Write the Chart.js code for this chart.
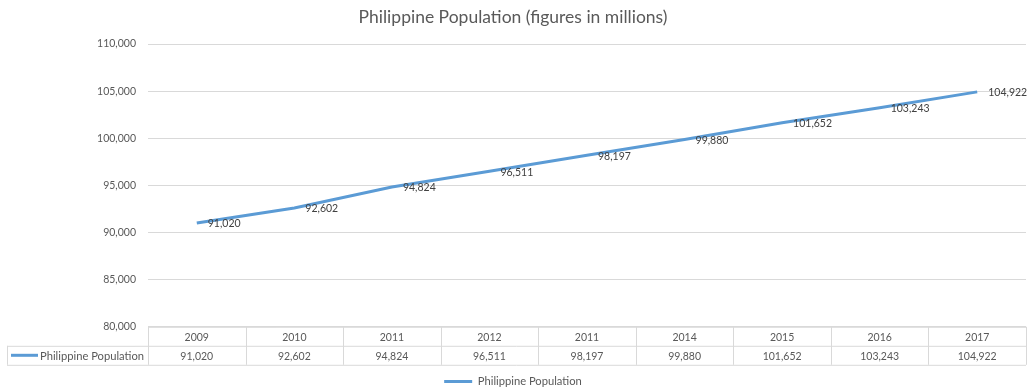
<!DOCTYPE html>
<html>
<head>
<meta charset="utf-8">
<title>Philippine Population</title>
<script src="https://cdn.jsdelivr.net/npm/chart.js@4/dist/chart.umd.min.js"></script>
<style>
  html, body { margin: 0; padding: 0; background: #ffffff; }
  #wrap { width: 1031px; height: 392px; position: relative; }
</style>
</head>
<body>
<div id="wrap"><canvas id="chart"></canvas></div>
<script>
// Year labels as they appear in the table header
const years = ['2009', '2010', '2011', '2012', '2011', '2014', '2015', '2016', '2017'];
// Population per year
const population = [91020, 92602, 94824, 96511, 98197, 99880, 101652, 103243, 104922];
const seriesName = 'Philippine Population';
const yTicks = [80000, 85000, 90000, 95000, 100000, 105000, 110000];

const FONT = 'Lato, "Open Sans", "Liberation Sans", sans-serif';
const NUM_SIZE = 10.5;
const TXT_SIZE = 11.2;
const TEXT = '#595959';
const GRID = '#d9d9d9';
const LINE = '#5b9bd5';

const fmt = v => v.toLocaleString('en-US');

// Value labels to the right of each point
const valueLabels = {
  id: 'valueLabels',
  afterDatasetsDraw(chart) {
    const { ctx } = chart;
    const meta = chart.getDatasetMeta(0);
    ctx.save();
    ctx.font = NUM_SIZE + 'px ' + FONT;
    ctx.fillStyle = '#404040';
    ctx.textAlign = 'left';
    ctx.textBaseline = 'middle';
    meta.data.forEach((pt, i) => {
      ctx.fillText(fmt(population[i]), pt.x + 11, pt.y + 1);
    });
    ctx.restore();
  }
};

// Data table under the plot: year header row and value row
const dataTable = {
  id: 'dataTable',
  afterDraw(chart) {
    const { ctx, chartArea } = chart;
    const x = chart.scales.x;
    const top = chartArea.bottom;
    const rowH = 19;
    const step = x.getPixelForValue(1) - x.getPixelForValue(0);
    const left = chartArea.left;
    const right = chartArea.right;
    const labelLeft = 7;
    ctx.save();
    ctx.strokeStyle = GRID;
    ctx.lineWidth = 1;
    ctx.beginPath();
    // horizontal rules
    ctx.moveTo(left, top + 0.5); ctx.lineTo(right, top + 0.5);
    ctx.moveTo(labelLeft, top + rowH + 0.5); ctx.lineTo(right, top + rowH + 0.5);
    ctx.moveTo(labelLeft, top + 2 * rowH + 0.5); ctx.lineTo(right, top + 2 * rowH + 0.5);
    // vertical rules
    for (let i = 0; i <= years.length; i++) {
      const vx = Math.round(x.getPixelForValue(i) - step / 2) + 0.5;
      ctx.moveTo(vx, top); ctx.lineTo(vx, top + 2 * rowH);
    }
    ctx.moveTo(labelLeft + 0.5, top + rowH); ctx.lineTo(labelLeft + 0.5, top + 2 * rowH);
    ctx.stroke();

    ctx.font = NUM_SIZE + 'px ' + FONT;
    ctx.fillStyle = TEXT;
    ctx.textAlign = 'center';
    ctx.textBaseline = 'middle';
    years.forEach((y, i) => {
      const cx = x.getPixelForValue(i);
      ctx.fillText(y, cx, top + rowH / 2 + 1);
      ctx.fillText(fmt(population[i]), cx, top + rowH * 1.5 + 1);
    });

    // series key in the row header
    const ky = top + rowH * 1.5;
    ctx.strokeStyle = LINE;
    ctx.lineWidth = 3;
    ctx.beginPath();
    ctx.moveTo(11, ky); ctx.lineTo(38, ky);
    ctx.stroke();
    ctx.font = TXT_SIZE + 'px ' + FONT;
    ctx.textAlign = 'left';
    ctx.fillText(seriesName, 40, ky + 1);
    ctx.restore();
  }
};

new Chart(document.getElementById('chart'), {
  type: 'line',
  data: {
    labels: years,
    datasets: [{
      label: seriesName,
      data: population,
      borderColor: LINE,
      backgroundColor: LINE,
      borderWidth: 3,
      pointRadius: 0,
      pointHoverRadius: 0,
      tension: 0,
      fill: false
    }]
  },
  options: {
    responsive: true,
    maintainAspectRatio: false,
    animation: false,
    layout: { padding: { left: 0, right: 5, top: 0, bottom: -5 } },
    plugins: {
      title: {
        display: true,
        text: 'Philippine Population (figures in millions)',
        color: TEXT,
        font: { family: FONT, size: 17.5, weight: 'normal', lineHeight: 1.2 },
        padding: { top: 7, bottom: 16 }
      },
      legend: {
        display: true,
        position: 'bottom',
        labels: {
          color: TEXT,
          font: { family: FONT, size: TXT_SIZE },
          usePointStyle: true,
          pointStyle: 'line',
          pointStyleWidth: 28,
          padding: 4
        }
      },
      tooltip: { enabled: false }
    },
    scales: {
      x: {
        type: 'category',
        offset: true,
        grid: { display: false },
        border: { display: false },
        ticks: { display: false },
        afterFit(scale) { scale.height = 45; }
      },
      y: {
        min: 80000,
        max: 110000,
        afterBuildTicks(scale) { scale.ticks = yTicks.map(v => ({ value: v })); },
        grid: { color: GRID, drawTicks: false },
        border: { display: false },
        ticks: {
          color: TEXT,
          font: { family: FONT, size: NUM_SIZE },
          padding: 12,
          callback: v => fmt(v)
        },
        afterFit(scale) { scale.width = 148; }
      }
    }
  },
  plugins: [valueLabels, dataTable]
});
</script>
</body>
</html>
